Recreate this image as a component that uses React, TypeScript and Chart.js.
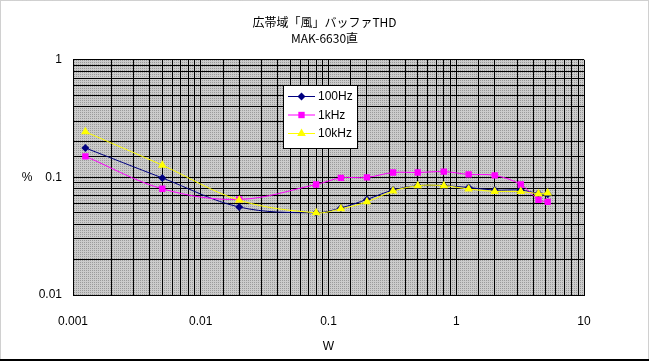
import React, { useEffect, useRef } from "react";
import { Chart, registerables } from "chart.js";

Chart.register(...registerables);

const titleLines = ["広帯域「風」バッファTHD", "MAK-6630直"];
const watts = [0.00125, 0.005, 0.02, 0.08, 0.125, 0.2, 0.32, 0.5, 0.8, 1.25, 2, 3.2, 4.4, 5.2];
const thd100Hz = [0.178, 0.099, 0.056, 0.05, 0.055, 0.065, 0.078, 0.085, 0.085, 0.082, 0.078, 0.078, 0.073, 0.072];
const thd1kHz = [0.151, 0.08, 0.065, 0.087, 0.099, 0.1, 0.11, 0.11, 0.112, 0.106, 0.104, 0.087, 0.0645, 0.062];
const thd10kHz = [0.244, 0.127, 0.064, 0.05, 0.054, 0.062, 0.0765, 0.085, 0.085, 0.0796, 0.076, 0.076, 0.0726, 0.0736];
const seriesNames = ["100Hz", "1kHz", "10kHz"];
const xTickLabels = [0.001, 0.01, 0.1, 1, 10];
const yTickLabels = [0.01, 0.1, 1];
const xTitle = "W";
const yTitle = "%";

const colors = ["#000080", "#ff00ff", "#ffff00"];
const markers = ["rectRot", "rect", "triangle"];
const markerRadius = [4, 4.5, 5];
const drawOrder = [2, 1, 0];

const near = (v: number, list: number[]) => list.some((t) => Math.abs(v - t) / t < 1e-6);

export default function App() {
  const ref = useRef<HTMLCanvasElement | null>(null);

  useEffect(() => {
    const canvas = ref.current!;
    const pc = document.createElement("canvas");
    pc.width = 2;
    pc.height = 2;
    const pctx = pc.getContext("2d")!;
    pctx.fillStyle = "#cbcbcb";
    pctx.fillRect(0, 0, 2, 2);
    pctx.fillStyle = "#9a9a9a";
    pctx.fillRect(0, 0, 1, 1);

    function drawMarker(ctx: CanvasRenderingContext2D, style: string, x: number, y: number, r: number, color: string) {
      ctx.fillStyle = color;
      ctx.beginPath();
      if (style === "rect") {
        const s = r * Math.SQRT1_2 * 2;
        ctx.rect(x - s / 2, y - s / 2, s, s);
      } else if (style === "rectRot") {
        ctx.moveTo(x, y - r);
        ctx.lineTo(x + r, y);
        ctx.lineTo(x, y + r);
        ctx.lineTo(x - r, y);
        ctx.closePath();
      } else {
        ctx.moveTo(x, y - r);
        ctx.lineTo(x + r * 0.866, y + r * 0.5);
        ctx.lineTo(x - r * 0.866, y + r * 0.5);
        ctx.closePath();
      }
      ctx.fill();
    }

    const decor = {
      id: "decor",
      beforeDraw(chart: any) {
        const { ctx, chartArea: a } = chart;
        ctx.save();
        ctx.fillStyle = "#ffffff";
        ctx.fillRect(0, 0, chart.width, chart.height);
        const pat = ctx.createPattern(pc, "repeat");
        ctx.fillStyle = pat;
        ctx.fillRect(a.left, a.top, a.right - a.left, a.bottom - a.top);
        ctx.restore();
      },
      afterDraw(chart: any) {
        const { ctx } = chart;
        ctx.save();
        ctx.strokeStyle = "#a0a0a0";
        ctx.lineWidth = 1;
        ctx.setLineDash([1, 1]);
        ctx.strokeRect(0.5, 0.5, chart.width - 1, chart.height - 1);
        ctx.setLineDash([]);
        ctx.strokeStyle = "#000000";
        ctx.lineWidth = 2;
        ctx.beginPath();
        ctx.moveTo(0, chart.height - 1);
        ctx.lineTo(chart.width, chart.height - 1);
        ctx.stroke();
        ctx.fillStyle = "#000";
        ctx.font = "12px 'Liberation Sans', Arial, sans-serif";
        ctx.textAlign = "center";
        ctx.textBaseline = "middle";
        const ys = chart.scales.y;
        ctx.fillText(yTitle, 27, ys.getPixelForValue(0.1));
        const lx = 283, ly = 85, lw = 74, lh = 63;
        ctx.fillStyle = "#ffffff";
        ctx.fillRect(lx, ly, lw, lh);
        ctx.strokeStyle = "#000";
        ctx.lineWidth = 1;
        ctx.strokeRect(lx + 0.5, ly + 0.5, lw, lh);
        const rows = [96, 114.5, 133];
        chart.data.datasets.forEach((ds: any, i: number) => {
          const y = rows[i];
          ctx.strokeStyle = ds.borderColor;
          ctx.lineWidth = 1;
          ctx.beginPath();
          ctx.moveTo(288, y + 0.5);
          ctx.lineTo(315, y + 0.5);
          ctx.stroke();
          drawMarker(ctx, markers[i], 301.5, y + 0.5, markerRadius[i], ds.pointBackgroundColor);
          ctx.fillStyle = "#000";
          ctx.font = "12px 'Liberation Sans', Arial, sans-serif";
          ctx.textAlign = "left";
          ctx.textBaseline = "middle";
          ctx.fillText(ds.label, 318, y + 1);
        });
        ctx.restore();
      },
    };

    const series = [thd100Hz, thd1kHz, thd10kHz];
    const chart = new Chart(canvas, {
      type: "line",
      data: {
        datasets: series.map((vals, i) => ({
          label: seriesNames[i],
          data: vals.map((v, j) => ({ x: watts[j], y: v })),
          order: drawOrder[i],
          borderColor: colors[i],
          backgroundColor: colors[i],
          pointBackgroundColor: colors[i],
          pointBorderColor: colors[i],
          pointBorderWidth: 0,
          pointStyle: markers[i] as any,
          pointRadius: markerRadius[i],
          borderWidth: 1,
          tension: 0.35,
          fill: false,
        })),
      },
      options: {
        animation: false,
        responsive: false,
        layout: { padding: { left: 0, right: 0, top: 0, bottom: 0 } },
        plugins: {
          legend: { display: false },
          tooltip: { enabled: false },
          title: {
            display: true,
            text: titleLines[0],
            color: "#000",
            font: { family: "'Noto Sans CJK JP', sans-serif", size: 12, weight: "normal", lineHeight: 1.2 },
            padding: { top: 15, bottom: 2 },
          },
          subtitle: {
            display: true,
            text: titleLines[1],
            color: "#000",
            font: { family: "'Noto Sans CJK JP', sans-serif", size: 12, weight: "normal", lineHeight: 1.2 },
            padding: { top: 0, bottom: 14 },
          },
        },
        scales: {
          x: {
            type: "logarithmic",
            min: 0.001,
            max: 10,
            afterFit(scale: any) {
              scale.height = 66;
            },
            grid: { color: "#000", lineWidth: 1, drawTicks: false },
            border: { color: "#000", width: 1 },
            ticks: {
              autoSkip: false,
              maxRotation: 0,
              padding: 19,
              color: "#000",
              font: { family: "'Liberation Sans', Arial, sans-serif", size: 12 },
              callback: (v: any) => (near(Number(v), xTickLabels) ? String(Number(v)) : ""),
            },
            title: {
              display: true,
              text: xTitle,
              color: "#000",
              font: { family: "'Liberation Sans', Arial, sans-serif", size: 12 },
              padding: { top: 0, bottom: 7 },
            },
          },
          y: {
            type: "logarithmic",
            min: 0.01,
            max: 1,
            afterFit(scale: any) {
              scale.width = 73;
            },
            grid: { color: "#000", lineWidth: 1, drawTicks: false },
            border: { color: "#000", width: 1 },
            ticks: {
              autoSkip: false,
              padding: 11,
              color: "#000",
              font: { family: "'Liberation Sans', Arial, sans-serif", size: 12 },
              callback: (v: any) => (near(Number(v), yTickLabels) ? String(Number(v)) : ""),
            },
          },
          yRightSpace: {
            type: "linear",
            position: "right",
            display: true,
            min: 0,
            max: 1,
            afterFit(scale: any) {
              scale.width = 65;
            },
            grid: { display: false, drawTicks: false },
            border: { display: false },
            ticks: { display: false },
          },
        },
      },
      plugins: [decor],
    });
    return () => chart.destroy();
  }, []);

  return (
    <div style={{ position: "fixed", left: 0, top: 0, width: 649, height: 361 }}>
      <canvas ref={ref} width={649} height={361} style={{ display: "block" }} />
    </div>
  );
}
